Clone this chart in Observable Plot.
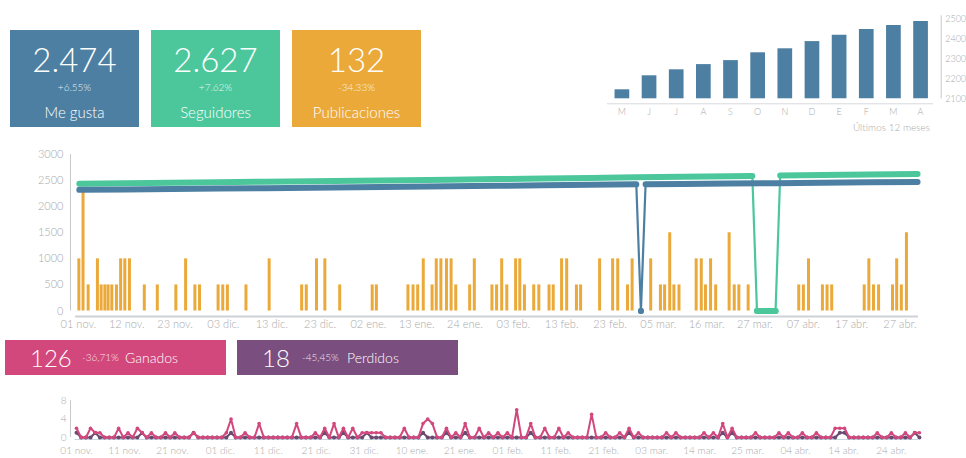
<!DOCTYPE html>
<html><head><meta charset="utf-8">
<script src="https://cdn.jsdelivr.net/npm/d3@7"></script>
<script src="https://cdn.jsdelivr.net/npm/@observablehq/plot@0.6"></script>
<style>
body{margin:0;background:#fff;font-family:Lato,"Open Sans",sans-serif;font-weight:300;}
#root{position:relative;width:966px;height:458px;overflow:hidden;background:#fff;}
.kpi{position:absolute;color:#fff;text-align:center;}
.kpi .big{position:absolute;left:0;right:0;top:11px;font-size:33px;line-height:36px;font-weight:300;}
.kpi .pct{position:absolute;left:0;right:0;top:51px;font-size:10px;line-height:12px;opacity:.85;}
.kpi .lab{position:absolute;left:0;right:0;top:73px;font-size:15px;line-height:18px;}
.strip{position:absolute;color:#fff;height:35px;}
.strip span{position:absolute;top:0;line-height:35px;white-space:nowrap;}
.note{position:absolute;font-size:10px;color:#aaa;}
</style></head><body><div id="root"></div>
<script>
// ---------- KPI data ----------
const kpiValues = ["2.474", "2.627", "132"];
const kpiChanges = ["+6.55%", "+7.62%", "-34.33%"];
const kpiLabels = ["Me gusta", "Seguidores", "Publicaciones"];
const stripValues = ["126", "18"];
const stripChanges = ["-36,71%", "-45,45%"];
const stripLabels = ["Ganados", "Perdidos"];

// ---------- Top-right monthly chart ----------
const monthLabels = ["M","J","J","A","S","O","N","D","E","F","M","A"];
const monthlyLikes = [2145, 2215, 2245, 2271, 2291, 2330, 2350, 2386, 2418, 2446, 2466, 2486];
const monthlyTicks = [2100, 2200, 2300, 2400, 2500];

// ---------- Main chart ----------
const mainTickLabels = ["01 nov.","12 nov.","23 nov.","03 dic.","13 dic.","23 dic.","02 ene.","13 ene.","24 ene.","03 feb.","13 feb.","23 feb.","05 mar.","16 mar.","27 mar.","07 abr.","17 abr.","27 abr."];
const mainYTicks = [0, 500, 1000, 1500, 2000, 2500, 3000];
// posts: day offset since 01 nov. and value
const postDays = [0.1,1.0,2.1,4.1,4.9,5.7,6.4,7.2,8.2,9.1,10.0,11.0,14.2,17.0,21.0,23.1,25.1,26.1,30.1,31.1,32.1,36.1,41.1,48.1,49.1,51.3,53.1,56.3,63.3,64.2,71.0,72.1,73.1,74.3,76.2,77.1,78.1,79.3,80.3,81.3,84.3,85.3,89.1,90.1,91.2,92.3,94.2,95.1,96.1,98.1,99.2,101.4,102.3,104.1,105.2,107.3,108.2,112.3,115.1,116.2,118.3,119.3,123.3,125.4,126.3,127.4,128.3,129.4,133.1,134.2,135.1,136.2,137.3,140.2,141.3,142.3,144.3,155.2,156.2,157.3,160.3,161.3,162.3,169.3,170.3,171.3,172.4,175.4,176.3,177.3,178.4];
const postValues = [1000,2300,500,1000,500,500,500,500,500,1000,1000,1000,500,500,500,1000,500,500,500,500,500,500,1000,500,500,1000,1000,500,500,500,500,500,500,1000,500,1000,1000,1000,1000,500,500,1000,500,500,1000,500,1000,1000,500,500,500,500,500,1000,1000,500,500,1000,1000,1000,500,1000,1000,500,500,1500,500,500,1000,1000,500,1000,500,1500,500,500,500,500,500,1000,500,500,500,500,1000,500,500,500,1000,500,1500];
// Me gusta (likes) line
const likeDays   = [0.2,10.2,20.2,30.2,40.2,50.2,60.2,70.2,80.2,90.2,100.2,110.2,120.2,121.2,122.2,130.2,140.2,150.2,160.2,170.2,180.8];
const likeValues = [2322,2330,2338,2347,2355,2364,2373,2382,2391,2400,2409,2418,2428,0,2430,2436,2443,2451,2458,2466,2474];
// Seguidores (followers) line
const followerDays   = [0.2,10.2,20.2,30.2,40.2,50.2,60.2,70.2,80.2,90.2,100.2,110.2,120.2,130.2,140.2,145.2,146.2,147.2,148.2,149.2,150.2,151.2,160.2,170.2,180.8];
const followerValues = [2441,2450,2459,2469,2478,2488,2498,2508,2518,2529,2540,2551,2562,2573,2584,2590,0,0,0,0,0,2596,2605,2616,2627];

// ---------- Bottom chart ----------
const bottomTickLabels = ["01 nov.","11 nov.","21 nov.","01 dic.","11 dic.","21 dic.","31 dic.","10 ene.","21 ene.","01 feb.","11 feb.","21 feb.","03 mar.","14 mar.","25 mar.","04 abr.","14 abr.","24 abr."];
const bottomYTicks = [0, 4, 8];
const ganadosValues = [
2,0,0,2,1,1,0,0,0,2, 0,1,0,2,1,0,1,0,0,1, 0,1,0,0,0,1,0,0,0,0, 0,0,1,4,0,0,1,0,0,3,
0,0,0,0,0,0,0,3,0,0, 0,1,0,2,0,3,0,2,0,2, 0,1,1,1,1,1,0,0,0,0, 2,0,0,0,3,4,3,0,0,2,
0,1,0,3,0,0,2,0,1,0, 1,0,1,0,6,0,0,3,0,0, 2,0,0,2,0,1,0,0,0,0, 5,0,0,1,0,0,1,0,2,0,
1,0,0,0,0,0,1,0,1,0, 0,0,0,0,1,0,1,0,3,0, 2,0,0,0,0,1,0,0,0,0, 1,0,1,0,0,1,0,0,1,0,
0,0,2,2,2,0,0,0,0,0, 0,1,0,0,1,0,0,1,0,1, 1];
const perdidosValues = [
1,0,0,0,1,0,0,0,0,0, 0,0,0,0,1,0,0,0,0,0, 0,0,0,0,0,1,0,0,0,0, 0,0,0,1,0,0,0,0,0,0,
0,0,0,0,0,0,0,0,0,0, 0,0,0,1,0,0,0,1,0,0, 0,0,1,0,0,0,0,0,0,0, 0,0,0,0,1,0,0,0,0,1,
0,0,0,1,0,0,0,0,0,0, 0,0,0,0,0,0,0,1,0,0, 0,0,0,0,0,0,0,0,0,0, 0,0,0,0,0,0,0,0,1,0,
0,0,0,0,0,0,0,0,0,0, 0,0,0,0,0,0,0,0,1,0, 1,0,0,0,0,0,0,0,0,0, 0,0,0,0,0,0,0,0,0,0,
0,0,0,1,1,0,0,0,0,0, 0,0,0,0,0,0,0,0,0,1, 0];

// ---------- colours ----------
const C = {blue:"#4d7fa2", green:"#4cc79c", orange:"#eba93a", pink:"#d2477c", purple:"#7b4e80", dark:"#6a4a70", grey:"#a9a9a9", axis:"#cdd2d7"};
const FONT = "Lato, 'Open Sans', sans-serif";

const root = document.getElementById("root");
function place(el, left, topPx){ el.style.position="absolute"; el.style.left=left+"px"; el.style.top=topPx+"px"; root.appendChild(el); return el; }

// KPI boxes
const kpiColors = [C.blue, C.green, C.orange];
const kpiLeft = [10, 151, 292];
kpiValues.forEach((v,i)=>{
  const d = document.createElement("div");
  d.className="kpi";
  d.style.cssText += `width:129px;height:97px;background:${kpiColors[i]};`;
  d.innerHTML = `<div class="big">${v}</div><div class="pct">${kpiChanges[i]}</div><div class="lab">${kpiLabels[i]}</div>`;
  place(d, kpiLeft[i], 30);
});

// strips
const stripColors = [C.pink, C.purple];
const stripLeft = [5, 237];
stripValues.forEach((v,i)=>{
  const d = document.createElement("div");
  d.className="strip";
  d.style.cssText += `width:221px;background:${stripColors[i]};`;
  d.innerHTML = `<span style="left:25px;font-size:24px;">${v}</span><span style="left:${i?65:77}px;font-size:10px;opacity:.85">${stripChanges[i]}</span><span style="left:${i?110:120}px;font-size:14px;">${stripLabels[i]}</span>`;
  place(d, stripLeft[i], 340);
});

// ---------- top-right chart ----------
const monthly = monthlyLikes.map((v,i)=>({i, v}));
const topChart = Plot.plot({
  width: 366, height: 140,
  marginTop: 18.3, marginBottom: 41.7, marginLeft: 7, marginRight: 25.3,
  x: {domain: [-0.53, 11.76]},
  y: {domain: [2100, 2500]},
  style: {fontFamily: FONT, fontSize: "9px", color: C.grey, background: "transparent", overflow: "visible"},
  marks: [
    Plot.ruleX(monthly, {x: "i", y1: 2100, y2: "v", stroke: C.blue, strokeWidth: 14.7}),
    Plot.ruleY([2075], {x1: -0.53, x2: 11.48, stroke: "#d6d9dc", strokeWidth: 1}),
    Plot.ruleX([11.76], {y1: 2100, y2: 2515, stroke: "#c8c8c8", strokeWidth: 1}),
    Plot.axisY({anchor: "right", label: null, ticks: monthlyTicks, tickSize: 0, tickPadding: 4, tickFormat: d => String(d)}),
    Plot.axisX({label: null, ticks: monthly.map(d=>d.i), tickFormat: i => monthLabels[i], tickSize: 0, tickPadding: 10})
  ]
});
place(topChart, 600, 0);
const note = document.createElement("div");
note.className = "note";
note.textContent = "Últimos 12 meses";
note.style.cssText += "right:36px;top:121px;";
root.appendChild(note);

// ---------- main chart ----------
function withSegments(days, values){
  let seg = 0, prevZero = null;
  return days.map((d,i)=>{
    const z = values[i] === 0;
    if (prevZero !== null && z !== prevZero) seg++;
    prevZero = z;
    return {day: d, value: values[i], seg};
  });
}
const posts = postDays.map((d,i)=>({day: d, value: postValues[i]}));
const likes = withSegments(likeDays, likeValues);
const followers = withSegments(followerDays, followerValues);
const mainStep = 177/17;
const mainTicks = mainTickLabels.map((_,i)=>i*mainStep);

const mainChart = Plot.plot({
  width: 966, height: 195,
  marginLeft: 70, marginRight: 48, marginTop: 14, marginBottom: 19,
  x: {domain: [-1.7, 181]},
  y: {domain: [-105, 3000]},
  style: {fontFamily: FONT, fontSize: "11px", color: C.grey, background: "transparent", overflow: "visible"},
  marks: [
    Plot.ruleX([-1.7], {y1: 0, y2: 3000, stroke: "#c9c9c9", strokeWidth: 1}),
    Plot.ruleY([-105], {x1: -0.6, x2: 181, stroke: C.axis, strokeWidth: 2}),
    Plot.axisY({label: null, ticks: mainYTicks, tickSize: 0, tickPadding: 7, tickFormat: d => String(d)}),
    Plot.axisX({label: null, ticks: mainTicks, tickSize: 0, tickPadding: 4, tickFormat: d => mainTickLabels[Math.round(d/mainStep)]}),
    Plot.ruleX(posts, {x: "day", y1: 0, y2: "value", stroke: C.orange, strokeWidth: 3}),
    Plot.line(followers, {x: "day", y: "value", stroke: C.green, strokeWidth: 2.2}),
    Plot.line(followers, {x: "day", y: "value", z: "seg", stroke: C.green, strokeWidth: 6, strokeLinecap: "round", strokeLinejoin: "round"}),
    Plot.line(likes, {x: "day", y: "value", stroke: C.blue, strokeWidth: 2.2}),
    Plot.line(likes, {x: "day", y: "value", z: "seg", stroke: C.blue, strokeWidth: 6, strokeLinecap: "round", strokeLinejoin: "round"}),
    Plot.dot(likes.filter(d=>d.value===0), {x: "day", y: "value", r: 3, fill: C.blue}),
    Plot.dot(followers.filter(d=>d.value===0), {x: "day", y: "value", r: 3, fill: C.green})
  ]
});
place(mainChart, 0, 140);

// ---------- bottom chart ----------
const ganados = ganadosValues.map((v,i)=>({day: i, v}));
const perdidos = perdidosValues.map((v,i)=>({day: i, v}));
const botStep = 174/17;
const botTicks = bottomTickLabels.map((_,i)=>i*botStep);
const bottomChart = Plot.plot({
  width: 966, height: 73,
  marginLeft: 70, marginRight: 48, marginTop: 15, marginBottom: 19,
  x: {domain: [-1.28, 179.8]},
  y: {domain: [-0.45, 8]},
  style: {fontFamily: FONT, fontSize: "10px", color: C.grey, background: "transparent", overflow: "visible"},
  marks: [
    Plot.ruleX([-1.28], {y1: 0, y2: 8, stroke: "#c9c9c9", strokeWidth: 1}),
    Plot.ruleY([-0.45], {x1: -0.3, x2: 179.8, stroke: "#c5d6e0", strokeWidth: 1}),
    Plot.axisY({label: null, ticks: bottomYTicks, tickSize: 0, tickPadding: 4}),
    Plot.axisX({label: null, ticks: botTicks, tickSize: 0, tickPadding: 7, tickFormat: d => bottomTickLabels[Math.round(d/botStep)]}),
    Plot.line(perdidos, {x: "day", y: "v", stroke: C.dark, strokeWidth: 2}),
    Plot.dot(perdidos, {x: "day", y: "v", r: 2, fill: C.dark}),
    Plot.line(ganados, {x: "day", y: "v", stroke: C.pink, strokeWidth: 2}),
    Plot.dot(ganados, {x: "day", y: "v", r: 1.8, fill: C.pink})
  ]
});
place(bottomChart, 0, 385);
</script></body></html>
